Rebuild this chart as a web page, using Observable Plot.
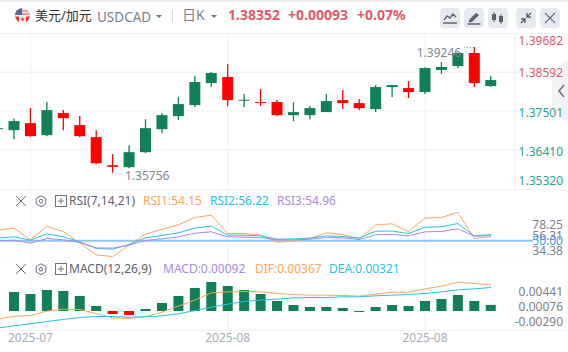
<!DOCTYPE html>
<html><head><meta charset="utf-8">
<script src="https://cdn.jsdelivr.net/npm/d3@7"></script>
<script src="https://cdn.jsdelivr.net/npm/@observablehq/plot@0.6"></script>
<style>
html,body{margin:0;padding:0;background:#fff;width:568px;height:352px;overflow:hidden;font-family:"Noto Sans","Noto Sans CJK SC",sans-serif}
.abs{position:absolute;white-space:nowrap;line-height:16px}
.pane{position:absolute;left:0}
.pane svg{display:block;background:transparent!important}
.btn{position:absolute;top:8px;width:20px;height:20px;border-radius:4px;background:#e7e9f0}
.btn svg,.ic{position:absolute}
</style></head><body>
<div class="abs" style="left:0;top:0;width:568px;height:2px;background:#e8ebf0"></div>
<svg style="position:absolute;left:552px;top:60px" width="16" height="62" viewBox="0 0 16 62"><path d="M16 0v62L0 52V10z" fill="#f1f2f6"/><path d="M12 25l-5 6 5 6" fill="none" stroke="#6b707d" stroke-width="1.6"/></svg>
<div id="root"></div>
<script>
// candles: index -1 is the sliver cut by the left edge
const idx    = [-1,0,1,2,3,4,5,6,7,8,9,10,11,12,13,14,15,16,17,18,19,20,21,22,23,24,25,26,27,28,29];
const open   = [1.36976,1.36948,1.37145,1.36807,1.37427,1.37089,1.36751,1.35961,1.35905,1.36328,1.36976,1.37343,1.37653,1.38273,1.38443,1.37775,1.37738,1.37738,1.37371,1.37371,1.37456,1.37794,1.37709,1.37540,1.38161,1.38132,1.38020,1.38640,1.38753,1.39119,1.38189];
const high   = [1.37020,1.37277,1.37568,1.37738,1.37512,1.37343,1.36948,1.36271,1.36525,1.37258,1.37427,1.37879,1.38471,1.38584,1.38809,1.37963,1.38104,1.37794,1.37738,1.37625,1.37963,1.38076,1.37822,1.38217,1.38217,1.38330,1.38715,1.38866,1.39119,1.39289,1.38471];
const low    = [1.36950,1.36694,1.36760,1.36779,1.36948,1.36751,1.35989,1.35756,1.35876,1.36300,1.36863,1.37230,1.37597,1.38161,1.37625,1.37597,1.37625,1.37343,1.37202,1.37258,1.37456,1.37540,1.37512,1.37456,1.37879,1.37850,1.37963,1.38527,1.38696,1.38161,1.38161];
const close  = [1.37004,1.37202,1.36779,1.37512,1.37286,1.36779,1.36017,1.35914,1.36328,1.37004,1.37371,1.37681,1.38302,1.38555,1.37794,1.37803,1.37709,1.37371,1.37456,1.37568,1.37766,1.37709,1.37568,1.38161,1.38217,1.38020,1.38696,1.38725,1.39119,1.38273,1.38358];
const rsi1   = [60.56,62.54,50.99,64.52,58.91,48.02,36.14,34.38,45.71,56.6,61.55,65.84,73.1,75.41,57.26,57.26,55.61,48.68,49.67,52.31,57.92,56.27,51.65,65.84,66.83,59.24,72.44,73.1,78.25,52.31,54.15];
const rsi2   = [52.64,53.96,50.66,56.93,53.96,49.01,42.41,41.75,46.37,52.97,55.28,57.92,62.54,64.52,55.61,55.61,54.95,51.65,51.98,52.64,54.95,54.29,52.64,59.57,59.57,57.26,63.53,63.86,67.16,54.95,56.22];
const rsi3   = [50,50.66,47.69,52.31,50.99,48.35,43.07,42.74,45.71,50.33,51.98,53.96,57.59,58.91,53.96,53.63,53.3,50.99,50.99,51.65,53.3,52.97,51.32,55.94,56.27,54.95,58.91,59.24,61.88,54.62,54.96];
const dif    = [-.0012,-.0007,-.0006,.00005,.00035,.0003,-.0003,-.00095,-.00105,-.00075,-.0001,.0008,.0017,.0028,.00295,.003,.00295,.0027,.00255,.00245,.00245,.0024,.0023,.0026,.0029,.0029,.0034,.0038,.0044,.0042,.004];
const dea    = [-.0025,-.00215,-.00185,-.0015,-.0012,-.0009,-.00075,-.00075,-.00085,-.0008,-.00065,-.00035,.00015,.00065,.0011,.0015,.0017,.00185,.00205,.0021,.0021,.0022,.0022,.00235,.00245,.00255,.0027,.00295,.00325,.0034,.0036];
const macdIdx= idx.slice(1);
const macd   = [.00285,.00255,.00315,.003,.00225,.00075,-.00045,-.0006,.0003,.0012,.00225,.00345,.00435,.00375,.00315,.00255,.0015,.0009,.0006,.0006,.00045,-.00015,.0006,.0009,.00075,.0015,.0018,.0024,.0015,.00092];
const macdRed= [6,7];
const dateTicks = [1,13,25];
const dateLabels = ["2025-07","2025-08","2025-08"];
const priceGrid = [1.38592,1.37501,1.36410];
// label text and the height, on each pane's own scale, at which the chart prints it
const priceLabels = ["1.39682","1.38592","1.37501","1.36410","1.35320"];
const priceLabelAt = [1.39467,1.38574,1.37437,1.36337,1.35519];
const rsiLabels = ["78.25","56.31","34.38"];
const rsiLabelAt = [65.8,54.6,39.9];
const macdLabels = ["0.00441","0.00076","-0.00290"];
const macdLabelAt = [.0029,.0007,-.00155];

const C={green:"#117f57",red:"#ff0000",grid:"#f3f4f8",orange:"#ffa45e",cyan:"#25c4e0",purple:"#a98ae8",blue:"#8ec5f5",lab:"#7d818c",up:"#e25a6b",dn:"#1fa68f"};
const XD=[-0.821,33.73], WIDTH=568;
const candles=idx.map((x,i)=>({x,o:open[i],h:high[i],l:low[i],c:close[i],col:close[i]>=open[i]?C.green:C.red}));
const series=a=>idx.map((x,i)=>({x,v:a[i]}));
const bars=macdIdx.map((x,i)=>({x,v:macd[i],col:macdRed.includes(x)?C.red:C.green}));
const root=document.getElementById("root");

function pane(top,height,domain,marks,marginBottom=0){
  const p=Plot.plot({width:WIDTH,height,margin:0,marginBottom,
    x:{domain:XD,range:[0,WIDTH],axis:null},
    y:{domain,axis:null},
    style:{background:"transparent",fontFamily:'"Noto Sans",sans-serif',fontSize:"12px"},
    marks});
  const d=document.createElement("div");d.className="pane";d.style.top=top+"px";d.appendChild(p);root.appendChild(d);
}
const vgrid=Plot.ruleX(dateTicks,{stroke:C.grid,strokeWidth:1.5});
const rightLabels=(t,at,col)=>Plot.text(t,{y:(d,i)=>at[i],text:d=>d,frameAnchor:"right",dx:-5.5,textAnchor:"end",fill:col,fontSize:12});
const line=(a,col)=>Plot.line(series(a),{x:"x",y:"v",stroke:col,strokeWidth:1,clip:true});

// price pane
pane(33,155,[1.3532,1.39682],[
  Plot.ruleY(priceGrid,{stroke:C.grid,strokeWidth:1.5}),
  vgrid,
  Plot.ruleX(candles,{x:"x",y1:"l",y2:"h",stroke:"col",strokeWidth:1.3,clip:true}),
  Plot.ruleX(candles,{x:"x",y1:"o",y2:"c",stroke:"col",strokeWidth:11,clip:true}),
  Plot.ruleY([1.39289],{x1:28,x2:27.4,stroke:"#8b8f99",strokeDasharray:"1,2"}),
  Plot.ruleY([1.35735],{x1:6,x2:6.7,stroke:"#8b8f99",strokeDasharray:"1,2"}),
  Plot.text(["1.39246"],{x:27.2,y:1.3914,text:d=>d,textAnchor:"end",fill:"#82868f",fontSize:12}),
  Plot.text(["1.35756"],{x:6.75,y:1.3566,text:d=>d,textAnchor:"start",fill:"#82868f",fontSize:12}),
  Plot.ruleX([30.47],{stroke:"#eff0f4",strokeWidth:1.2}),
  Plot.text(priceLabels,{y:(d,i)=>priceLabelAt[i],text:d=>d,frameAnchor:"right",dx:-5.5,textAnchor:"end",fill:(d,i)=>i<2?C.up:C.dn,fontSize:12})
]);
// RSI pane: 50 at y=240, about 1 value per pixel
pane(190,68,[32.5,99.8],[
  vgrid,
  Plot.ruleY([0],{y:()=>32.5,stroke:C.grid,strokeWidth:1.5}),
  Plot.ruleY([50],{x1:XD[0],x2:31.6,stroke:C.blue,strokeWidth:2}),
  line(rsi1,C.orange),line(rsi2,C.cyan),line(rsi3,C.purple),
  rightLabels(rsiLabels,rsiLabelAt,C.lab),
  Plot.text(["50.00"],{y:50,text:d=>d,frameAnchor:"right",dx:-5.5,textAnchor:"end",fill:"#3f9df2",fontSize:12})
]);
// MACD pane with date axis
pane(258,94,[-.00285,.00795],[
  vgrid,
  Plot.ruleY([-.00285],{stroke:C.grid,strokeWidth:1.5}),
  Plot.ruleX(bars,{x:"x",y1:()=>0,y2:"v",stroke:"col",strokeWidth:10}),
  line(dif,C.orange),line(dea,C.cyan),
  rightLabels(macdLabels,macdLabelAt,C.lab),
  Plot.axisX(dateTicks,{tickSize:0,tickPadding:3,tickFormat:(d,i)=>dateLabels[i],anchor:"bottom",label:null,fill:"#a9adb8",fontSize:12})
],22);

// header and pane titles
function txt(s,left,top,color,size=12,weight=400){
  const e=document.createElement("div");e.className="abs";e.textContent=s;
  e.style.cssText+=`left:${left}px;top:${top-8}px;color:${color};font-size:${size}px;font-weight:${weight}`;
  document.body.appendChild(e);
}
function ic(html,left,top,w=20,h=20){
  const e=document.createElement("div");e.className="ic";e.style.cssText=`left:${left}px;top:${top}px;width:${w}px;height:${h}px`;
  e.innerHTML=`<svg width="${w}" height="${h}" viewBox="0 0 ${w} ${h}" style="position:absolute;left:0;top:0">${html}</svg>`;
  document.body.appendChild(e);
}
txt("美元/加元",35,15,"#2f3239",13);
txt("USDCAD",97,17,"#7a7f8b",13.5);
txt("日K",182,15,"#7a7f8b",14);
txt("1.38352",228,15,C.up,14,700);
txt("+0.00093",288,15,C.up,14,700);
txt("+0.07%",357,15,C.up,14,700);
ic('<path d="M0 0h6l-3 3z" fill="#6f7480"/>',156,15,6,4);
ic('<path d="M0 0h6l-3 3z" fill="#6f7480"/>',211,15,6,4);
ic('<rect x="0" width="1" height="12" fill="#d5d8df"/>',172,10,1,12);
// flag
ic('<clipPath id="fc"><circle cx="7.5" cy="7.5" r="7.5"/></clipPath><g clip-path="url(#fc)"><rect width="15" height="15" fill="#eef0f4"/><path d="M0 3h15M0 6h15" stroke="#d88" stroke-width="1.3"/><rect width="7" height="7" fill="#5b6a9a"/><rect y="10" width="15" height="5" fill="#f4f4f4"/><path d="M0 8.5h4V15H0zM11 8.5h4V15h-4z" fill="#e33"/><path d="M7.5 9l1.6 2.4-1.6 1.8-1.6-1.8z" fill="#e33"/></g>',15,8,15,15);
[440,464,488,516,540].forEach((x,i)=>{
  const icons=[
   '<path d="M4 12l3-4 3 2 3-4 3 3" fill="none" stroke="#5d6270" stroke-width="1.3"/><path d="M3 15h14" stroke="#5d6270" stroke-width="1.5"/>',
   '<path d="M5 12l7-7 3 2-7 7-3 .5z" fill="#5d6270"/><path d="M3.5 16h13" stroke="#5d6270" stroke-width="1.5"/>',
   '<path d="M6 4v10M13 6v10" stroke="#5d6270"/><rect x="4" y="6" width="4" height="6" fill="#5d6270"/><rect x="11" y="8" width="4" height="6" fill="#5d6270"/>',
   '<path d="M15 5l-4 4M5 15l4-4M11 5v4h4M5 11h4v4" fill="none" stroke="#5d6270" stroke-width="1.4"/>',
   '<path d="M5 5l10 10M15 5L5 15" stroke="#6c7180" stroke-width="1.2"/>'];
  const b=document.createElement("div");b.className="btn";b.style.left=x+"px";
  b.innerHTML=`<svg width="20" height="20" style="left:0;top:0">${icons[i]}</svg>`;
  document.body.appendChild(b);
});
// rule below header
const hr=document.createElement("div");hr.className="abs";hr.style.cssText="left:0;top:33px;width:568px;height:1px;background:#f1f2f6";document.body.appendChild(hr);
const t1=document.createElement("div");t1.className="abs";t1.style.cssText="left:0;top:189px;width:568px;height:1px;background:#f1f2f6";document.body.appendChild(t1);
// pane title rows
function rowIcons(y){
  ic('<path d="M1 1l10 10M11 1L1 11" stroke="#6c7180" stroke-width="1"/>',15,y-6,12,12);
  ic('<path d="M6 .8l4.8 2.7v5.5L6 11.7 1.2 9V3.5z" fill="none" stroke="#6c7180"/><circle cx="6" cy="6.2" r="1.8" fill="none" stroke="#6c7180"/>',35,y-6.5,12,13);
  ic('<rect x=".5" y=".5" width="11" height="11" fill="none" stroke="#6c7180"/><path d="M3 6h6M6 3v6" stroke="#6c7180"/>',54.5,y-6,12,12);
}
rowIcons(201);rowIcons(269);
txt("RSI(7,14,21)",69,201,"#5b5f6a",12);
txt("RSI1:54.15",143,201,C.orange,12);
txt("RSI2:56.22",210,201,C.cyan,12);
txt("RSI3:54.96",277,201,C.purple,12);
txt("MACD(12,26,9)",69,269,"#5b5f6a",12);
txt("MACD:0.00092",163,269,C.purple,12);
txt("DIF:0.00367",255,269,C.orange,12);
txt("DEA:0.00321",329,269,C.cyan,12);
</script>
</body></html>
